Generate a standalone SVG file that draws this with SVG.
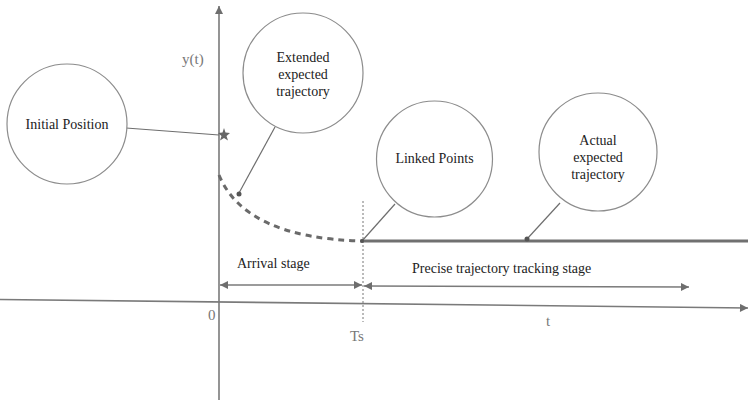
<svg xmlns="http://www.w3.org/2000/svg" width="755" height="406" viewBox="0 0 755 406" font-family="Liberation Serif, DejaVu Serif, serif">
  <style>
    .axis { stroke: #7a7a7a; stroke-width: 1.6; fill: none; }
    .bubble { fill: #ffffff; stroke: #8c8c8c; stroke-width: 1.2; }
    .lead { stroke: #6e6e6e; stroke-width: 1.2; fill: none; }
    .label { font-size: 14px; fill: #222; }
    .axlabel { font-size: 15px; fill: #777; }
    .dot { fill: #555; }
  </style>
  <defs>
    <marker id="tri" viewBox="0 0 10 10" refX="10" refY="5" markerWidth="10" markerHeight="8" markerUnits="userSpaceOnUse" orient="auto-start-reverse">
      <path d="M0,0 L10,5 L0,10 Z" fill="#6e6e6e"/>
    </marker>
  </defs>

  <rect width="755" height="406" fill="#ffffff"/>

  <!-- axes -->
  <g id="axes">
    <line class="axis" x1="219" y1="400" x2="219" y2="6" marker-end="url(#tri)"/>
    <line class="axis" x1="0" y1="299.5" x2="748" y2="308" marker-end="url(#tri)"/>
    <text class="axlabel" x="182" y="64" font-family="Liberation Serif, serif">y(t)</text>
    <text class="axlabel" x="208" y="320" font-family="Liberation Serif, serif">0</text>
    <text class="axlabel" x="350" y="341" font-family="Liberation Serif, serif">Ts</text>
    <text class="axlabel" x="546" y="326" font-family="Liberation Serif, serif">t</text>
  </g>

  <!-- trajectories -->
  <g id="trajectories">
    <path d="M219,175 Q245,238 362,241" fill="none" stroke="#6a6a6a" stroke-width="3" stroke-dasharray="6,5"/>
    <line x1="362" y1="241" x2="748" y2="241" stroke="#707070" stroke-width="3"/>
    <line x1="363" y1="201" x2="363" y2="322" stroke="#777" stroke-width="1" stroke-dasharray="2,2"/>
  </g>

  <!-- stage spans -->
  <g id="stages" font-family="Liberation Serif, serif">
    <line class="axis" x1="220" y1="285" x2="362" y2="285" marker-start="url(#tri)" marker-end="url(#tri)"/>
    <line class="axis" x1="364" y1="286" x2="689" y2="287" marker-start="url(#tri)" marker-end="url(#tri)"/>
    <text class="label" x="237" y="268">Arrival stage</text>
    <text class="label" x="412" y="273">Precise trajectory tracking stage</text>
  </g>

  <!-- connectors -->
  <g id="connectors">
    <line class="lead" x1="126" y1="128" x2="219" y2="135"/>
    <line class="lead" x1="275" y1="127" x2="239" y2="193"/>
    <line class="lead" x1="395" y1="204" x2="362" y2="241"/>
    <line class="lead" x1="560" y1="203" x2="527" y2="239"/>
    <circle class="dot" cx="239" cy="194" r="2.5"/>
    <circle class="dot" cx="527" cy="239" r="2.5"/>
    <circle class="dot" cx="362" cy="241" r="2"/>
  </g>

  <!-- start marker -->
  <g id="start-star">
    <path d="M224,128 L225.5,132.5 L230,133 L226.5,136 L228,140.5 L224,138 L220,140.5 L221.5,136 L218,133 L222.5,132.5 Z" fill="#666"/>
  </g>

  <g id="node-initial" font-family="Liberation Serif, serif">
    <circle class="bubble" cx="67" cy="124" r="60"/>
    <text class="label" x="67" y="129" text-anchor="middle">Initial Position</text>
  </g>

  <g id="node-extended" font-family="Liberation Serif, serif">
    <circle class="bubble" cx="303" cy="73" r="60"/>
    <text class="label" x="303" y="62" text-anchor="middle">Extended</text>
    <text class="label" x="303" y="79" text-anchor="middle">expected</text>
    <text class="label" x="303" y="96" text-anchor="middle">trajectory</text>
  </g>

  <g id="node-linked" font-family="Liberation Serif, serif">
    <circle class="bubble" cx="434.5" cy="159" r="58"/>
    <text class="label" x="434.5" y="163" text-anchor="middle">Linked Points</text>
  </g>

  <g id="node-actual" font-family="Liberation Serif, serif">
    <circle class="bubble" cx="598" cy="152" r="59"/>
    <text class="label" x="598" y="145" text-anchor="middle">Actual</text>
    <text class="label" x="598" y="162" text-anchor="middle">expected</text>
    <text class="label" x="598" y="179" text-anchor="middle">trajectory</text>
  </g>
</svg>
